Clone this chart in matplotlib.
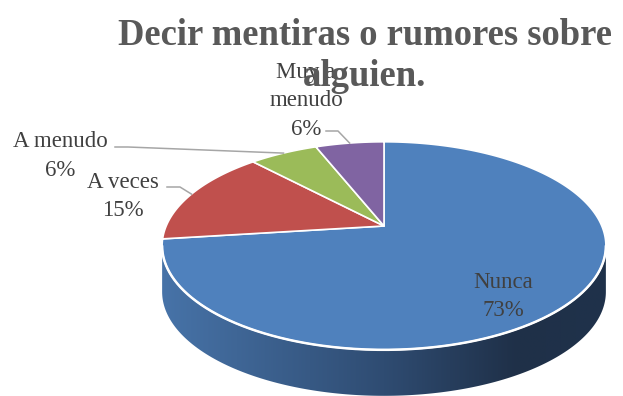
import numpy as np
import matplotlib
matplotlib.use("Agg")
import matplotlib.pyplot as plt
from matplotlib.patches import Polygon
from matplotlib.colors import LinearSegmentedColormap

# ---- data ----
title_lines = ["Decir mentiras o rumores sobre", "alguien."]
categories = ["Nunca", "A veces", "A menudo", "Muy a\nmenudo"]
percent = [73, 15, 6, 6]
slice_colors = ["#4F81BD", "#C0504D", "#9BBB59", "#8064A2"]

W, H = 623, 396
plt.rcParams["font.family"] = ["Liberation Serif", "DejaVu Serif"]
fig = plt.figure(figsize=(W / 100, H / 100), dpi=100)
ax = fig.add_axes([0, 0, 1, 1])

# ---- perspective view of a unit disc ----
CX, CY = 384, 226          # projected centre of the pie
FOCAL, DIST = 1015, 4.66   # camera focal length (px) and distance (radii)
ELEV = np.radians(27.4)    # viewing elevation
THICK = 46                 # pie thickness in pixels


def project(theta_deg):
    """Angle clockwise from 12 o'clock -> screen position of rim point."""
    t = np.radians(theta_deg)
    x, z = np.sin(t), np.cos(t)
    depth = DIST + z * np.cos(ELEV)
    return CX + FOCAL * x / depth, CY - FOCAL * z * np.sin(ELEV) / depth


fractions = np.array(percent, dtype=float) / np.sum(percent)
bounds = np.concatenate([[0], np.cumsum(fractions) * 360])

# side wall: front half of the rim, extruded downward
th = np.linspace(0, 360, 3601)
rx, ry = project(th)
i_r, i_l = np.argmax(rx), np.argmin(rx)
front = np.linspace(th[i_r], th[i_l], 400)
fx, fy = project(front)
side_pts = np.vstack([np.column_stack([fx, fy]),
                      np.column_stack([fx[::-1], fy[::-1] + THICK])])
side = Polygon(side_pts, closed=True, facecolor="none", edgecolor="none")
ax.add_patch(side)
side_cmap = LinearSegmentedColormap.from_list(
    "side", [(0.0, "#4773A8"), (0.5, "#2F4C72"), (0.8, "#1F3048"), (1.0, "#1F324B")])
grad = np.linspace(0, 1, 256)[None, :]
img = ax.imshow(grad, extent=(fx.min(), fx.max(), fy.max() + THICK, fy.min()),
                aspect="auto", cmap=side_cmap, zorder=1, interpolation="bilinear")
img.set_clip_path(side)

# top faces of the slices
for a0, a1, col in zip(bounds[:-1], bounds[1:], slice_colors):
    arc = np.linspace(a0, a1, max(int((a1 - a0) * 4), 8))
    px, py = project(arc)
    pts = np.vstack([[CX, CY], np.column_stack([px, py])])
    ax.add_patch(Polygon(pts, closed=True, facecolor=col, edgecolor="white",
                         linewidth=1.2, joinstyle="round", zorder=2))

# white rim along the front edge
ax.plot(fx, fy, color="white", lw=1.8, zorder=3, solid_capstyle="round")

# ---- data labels ----
label_color = "#404040"
leader_color = "#A6A6A6"
LABEL_SIZE = 16.5
LINE_GAP = 28.5
label_pos = [(503, 288), (123, 188), (60, 147), (306, 78)]
leader_start = [None, [(167, 187), (180, 187)], [(115, 147), (128, 147)],
                [(326, 131), (338, 131)]]

for k, (name, pct) in enumerate(zip(categories, percent)):
    lines = name.split("\n") + [f"{pct}%"]
    x0, y0 = label_pos[k]
    for j, s in enumerate(lines):
        ax.text(x0, y0 + j * LINE_GAP, s, ha="center", va="baseline",
                fontsize=LABEL_SIZE, color=label_color, zorder=5)
    if leader_start[k] is not None:
        mx, my = project((bounds[k] + bounds[k + 1]) / 2)
        xs = [p[0] for p in leader_start[k]] + [mx]
        ys = [p[1] for p in leader_start[k]] + [my]
        ax.plot(xs, ys, color=leader_color, lw=1.1, zorder=4)

# ---- title ----
for j, s in enumerate(title_lines):
    ax.text(365, 45 + j * 41, s, ha="center", va="baseline", fontsize=26.4,
            fontweight="bold", color="#595959", zorder=6)

ax.set_xlim(0, W)
ax.set_ylim(H, 0)
ax.axis("off")
fig.savefig("out.png", dpi=100, facecolor="white")
